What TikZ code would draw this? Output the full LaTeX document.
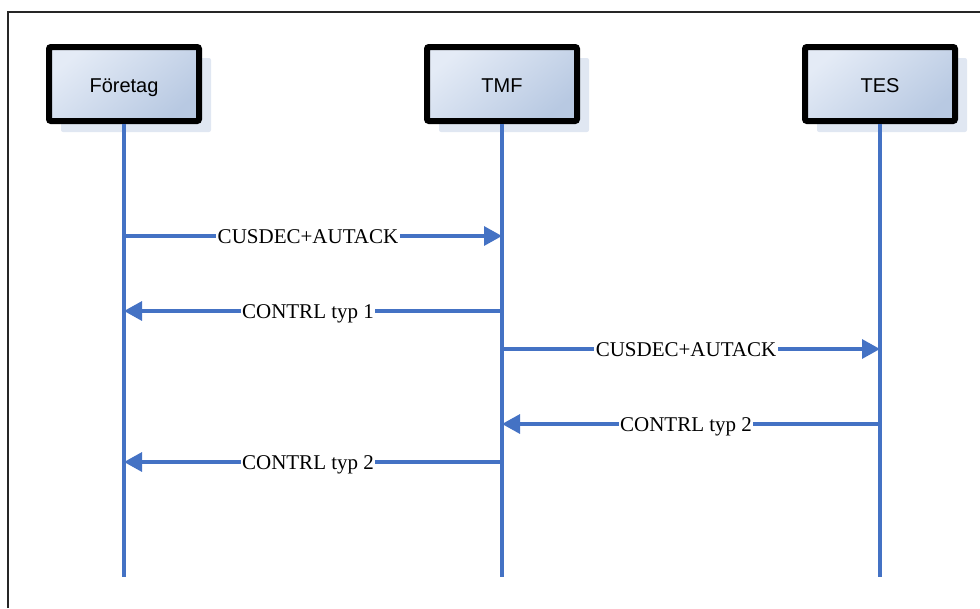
\documentclass[tikz,border=0pt]{standalone}
\usepackage{fontspec}
\setmainfont{Liberation Serif}
\setsansfont{Liberation Sans}
\usetikzlibrary{arrows.meta,shadows}

\definecolor{lineblue}{RGB}{68,114,196}
\definecolor{boxlight}{RGB}{228,235,246}
\definecolor{boxdark}{RGB}{184,201,226}
\definecolor{shadeblue}{RGB}{224,231,242}

\begin{document}
\begin{tikzpicture}[x=1pt,y=-1pt,node distance=378pt,
                    >={Triangle[length=18pt,width=19pt]},
                    party/.style={rectangle,draw=black,line width=6pt,rounded corners=2pt,
                      minimum width=150pt,minimum height=74pt,
                      text height=16pt,text depth=0pt,
                      top color=boxlight,bottom color=boxdark,shading angle=40,
                      general shadow={fill=shadeblue,shadow xshift=12pt,shadow yshift=-11pt},
                      font=\sffamily\fontsize{20}{24}\selectfont},
                    lifeline/.style={draw=lineblue,line width=3.2pt},
                    msg/.style={draw=lineblue,line width=3.2pt,->}]

  \useasboundingbox (0,0) rectangle (980,608);
  \draw[line width=2.5pt,black!85] (8,608) -- (8,12) -- (980,12);

  \node[party] (foretag) at (124,84) {Företag};
  \node[party] (tmf) [right of=foretag] {TMF};
  \node[party] (tes) [right of=tmf] {TES};

  \coordinate (foretag end) at (124,577);
  \coordinate (tmf end) at (502,577);
  \coordinate (tes end) at (880,577);

  \path[lifeline] (foretag.south) -- (foretag end)
                  (tmf.south) -- (tmf end)
                  (tes.south) -- (tes end);

  \coordinate (f1) at (124,236);  \coordinate (t1) at (502,236);
  \coordinate (t2) at (502,311);  \coordinate (f2) at (124,311);
  \coordinate (t3) at (502,349);  \coordinate (s3) at (880,349);
  \coordinate (s4) at (880,424);  \coordinate (t4) at (502,424);
  \coordinate (t5) at (502,462);  \coordinate (f5) at (124,462);

  \path[every node/.style={fill=white,inner sep=1.5pt,text height=14pt,text depth=0pt,
                           font=\fontsize{21}{24}\selectfont}]
    (f1) edge[msg] node[xshift=-5pt] {CUSDEC+AUTACK} (t1)
    (t2) edge[msg] node[xshift=-5pt] {CONTRL typ 1} (f2)
    (t3) edge[msg] node[xshift=-5pt] {CUSDEC+AUTACK} (s3)
    (s4) edge[msg] node[xshift=-5pt] {CONTRL typ 2} (t4)
    (t5) edge[msg] node[xshift=-5pt] {CONTRL typ 2} (f5);
\end{tikzpicture}
\end{document}
